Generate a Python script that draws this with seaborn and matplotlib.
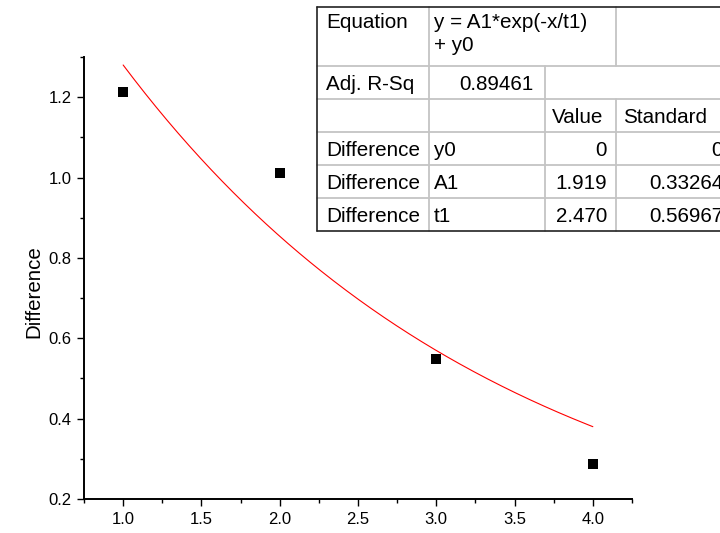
import numpy as np
import matplotlib
matplotlib.use("Agg")
import matplotlib.pyplot as plt
from matplotlib.lines import Line2D
from matplotlib.ticker import MultipleLocator
import seaborn as sns

# Measured differences
x_obs = [1.0, 2.0, 3.0, 4.0]
diff_obs = [1.214, 1.0125, 0.5475, 0.288]

# Exponential decay fit: y = A1*exp(-x/t1) + y0
fit_y0 = 0.0
fit_A1 = 1.919
fit_t1 = 2.470
fit_x_start = 1.0
fit_x_end = 4.0

# Fit report table
eq_text = "y = A1*exp(-x/t1)\n+ y0"
adj_r2_text = "0.89461"
param_names = ["y0", "A1", "t1"]
param_values = ["0", "1.919", "2.470"]
param_errors = ["0", "0.33264", "0.56967"]
dependent_name = "Difference"

x_ticks = [1.0, 1.5, 2.0, 2.5, 3.0, 3.5, 4.0]
y_ticks = [0.2, 0.4, 0.6, 0.8, 1.0, 1.2]

sns.set_style("ticks")
plt.rcParams["font.family"] = ["Liberation Sans", "DejaVu Sans"]

W, H = 720, 533
fig = plt.figure(figsize=(W / 100, H / 100), dpi=100)
ax = fig.add_axes([84 / W, (H - 499) / H, 548 / W, 442 / H])

# fitted curve
xs = np.linspace(fit_x_start, fit_x_end, 300)
ys = fit_A1 * np.exp(-xs / fit_t1) + fit_y0
sns.lineplot(x=xs, y=ys, color="#ff0000", linewidth=0.8, ax=ax, legend=False)

# data points
sns.scatterplot(x=x_obs, y=diff_obs, marker="s", s=48, color="black",
                edgecolor="black", linewidth=0, ax=ax, legend=False, zorder=3)

ax.set_xlim(0.75, 4.25)
ax.set_ylim(0.2, 1.30)
ax.set_xticks(x_ticks)
ax.set_xticklabels([f"{v:.1f}" for v in x_ticks])
ax.set_yticks(y_ticks)
ax.set_yticklabels([f"{v:.1f}" for v in y_ticks])
ax.xaxis.set_minor_locator(MultipleLocator(0.25))
ax.yaxis.set_minor_locator(MultipleLocator(0.1))
ax.tick_params(which="major", direction="out", length=5, width=1.0,
               labelsize=12, pad=4, color="black", labelcolor="black")
ax.tick_params(which="minor", direction="out", length=3, width=1.0, color="black")
sns.despine(ax=ax)
for side in ("left", "bottom"):
    ax.spines[side].set_linewidth(1.4)
    ax.spines[side].set_color("black")

ax.set_xlabel("")
ax.set_ylabel("Difference", fontsize=14.8, color="black")
ax.yaxis.label.set_verticalalignment("center")
ax.yaxis.set_label_coords((33.5 - 84) / 548, (499 - 292) / 442)

# ---- fit report table (drawn in pixel coordinates, top-left origin) ----
def fx(px):
    return px / W

def fy(py):
    return 1 - py / H

cols = [317, 429, 545, 616, 735]
rows = [7, 66, 99, 132, 165, 198, 231]
grid_c = "#c4c4c4"
edge_c = "#222222"

def hline(y, x0, x1, color, lw):
    fig.add_artist(Line2D([fx(x0), fx(x1)], [fy(y), fy(y)], color=color,
                          linewidth=lw, transform=fig.transFigure))

def vline(x, y0, y1, color, lw):
    fig.add_artist(Line2D([fx(x), fx(x)], [fy(y0), fy(y1)], color=color,
                          linewidth=lw, transform=fig.transFigure))

# white background of the table
fig.add_artist(plt.Rectangle((fx(cols[0]), fy(rows[-1])),
                             fx(cols[-1]) - fx(cols[0]), fy(rows[0]) - fy(rows[-1]),
                             transform=fig.transFigure, facecolor="white",
                             edgecolor="none", zorder=0.5))

for r in rows[1:-1]:
    hline(r, cols[0], cols[-1], grid_c, 1.3)
vline(cols[1], rows[0], rows[-1], grid_c, 1.3)
vline(cols[2], rows[1], rows[-1], grid_c, 1.3)
vline(cols[3], rows[0], rows[1], grid_c, 1.3)
vline(cols[3], rows[2], rows[-1], grid_c, 1.3)
hline(rows[0], cols[0], cols[-1], edge_c, 1.2)
hline(rows[-1], cols[0], cols[-1], edge_c, 1.2)
vline(cols[0], rows[0], rows[-1], edge_c, 1.2)

fs = 14.9
def cell(text, x, y, ha="left", va="baseline", **kw):
    fig.text(fx(x), fy(y), text, ha=ha, va=va, fontsize=fs, color="black", **kw)

def base(i):
    return (rows[i] + rows[i + 1]) / 2 + 7.5

cell("Equation", cols[0] + 9, 13.5, va="top")
cell(eq_text, cols[1] + 5, 13.5, va="top", linespacing=1.25)
cell("Adj. R-Sq", cols[0] + 9, base(1))
cell(adj_r2_text, cols[2] - 11, base(1), ha="right")
cell("Value", cols[2] + 7, base(2))
cell("Standard", cols[3] + 7, base(2))
for k, (nm, val, err) in enumerate(zip(param_names, param_values, param_errors)):
    i = 3 + k
    cell(dependent_name, cols[0] + 9, base(i))
    cell(nm, cols[1] + 5, base(i))
    cell(val, cols[3] - 9, base(i), ha="right")
    cell(err, 723, base(i), ha="right")

fig.savefig("out.png", dpi=100)
